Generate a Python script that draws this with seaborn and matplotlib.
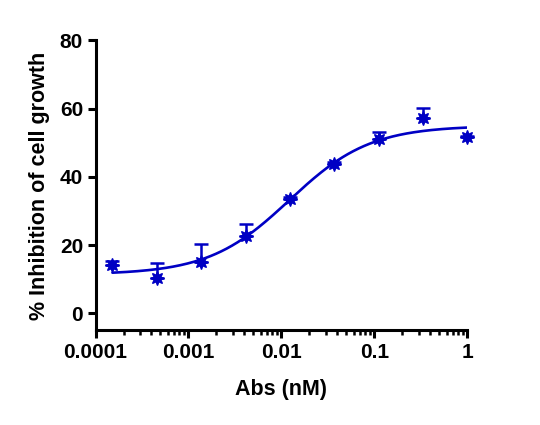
import matplotlib
matplotlib.use("Agg")
import matplotlib.pyplot as plt
import matplotlib.ticker as mticker
import numpy as np
import pandas as pd
import seaborn as sns

# data
conc = [0.000152, 0.000457, 0.00137, 0.00412, 0.0123, 0.037, 0.111, 0.333, 1.0]
inhibition = [14.1, 10.5, 15.2, 22.7, 33.6, 43.9, 51.0, 57.3, 51.7]
err_up = [1.4, 4.3, 5.0, 3.6, 0.6, 0.5, 2.1, 3.0, 0.4]

# 4PL fit parameters (bottom, top, EC50, hill)
fit_bottom, fit_top, fit_ec50, fit_hill = 11.4, 55.0, 0.0122, 1.0

blue = "#0000C4"

sns.set_style("ticks", {"axes.edgecolor": "black", "text.color": "black",
                        "xtick.color": "black", "ytick.color": "black",
                        "axes.labelcolor": "black"})
plt.rcParams["font.family"] = ["Liberation Sans", "DejaVu Sans"]
plt.rcParams["font.weight"] = "bold"

df = pd.DataFrame({"conc": conc, "inhibition": inhibition})
xfit = np.logspace(np.log10(conc[0]), np.log10(conc[-1]), 200)
yfit = fit_bottom + (fit_top - fit_bottom) / (1 + (fit_ec50 / xfit) ** fit_hill)
fit_df = pd.DataFrame({"conc": xfit, "fit": yfit})

fig = plt.figure(figsize=(5.4, 4.25), dpi=100)
ax = fig.add_axes([0.1769, 0.2224, 0.6885, 0.6824])

sns.lineplot(data=fit_df, x="conc", y="fit", color=blue, linewidth=1.9, ax=ax)
ax.errorbar(conc, inhibition, yerr=[np.zeros(len(err_up)), err_up], fmt="none",
            ecolor=blue, elinewidth=1.8, capsize=5, capthick=1.8, clip_on=False)
sns.scatterplot(data=df, x="conc", y="inhibition", marker=(8, 1, 0), s=90,
                color=blue, edgecolor=blue, linewidth=1.2, ax=ax, zorder=5,
                clip_on=False)

ax.set_xscale("log")
ax.set_xlim(1e-4, 1)
ax.set_ylim(-5, 80)
ax.set_yticks([0, 20, 40, 60, 80])
ax.set_xticks([1e-4, 1e-3, 1e-2, 1e-1, 1])
ax.set_xticklabels(["0.0001", "0.001", "0.01", "0.1", "1"])
ax.xaxis.set_minor_locator(mticker.LogLocator(base=10, subs=np.arange(2, 10)))
ax.xaxis.set_minor_formatter(mticker.NullFormatter())

for s in ["top", "right"]:
    ax.spines[s].set_visible(False)
for s in ["left", "bottom"]:
    ax.spines[s].set_linewidth(2.2)
    ax.spines[s].set_color("black")
ax.tick_params(axis="both", which="major", length=6, width=2.2, labelsize=15,
               pad=3, colors="black")
ax.tick_params(axis="x", which="minor", length=3.5, width=1.8, colors="black")
for lab in ax.get_xticklabels() + ax.get_yticklabels():
    lab.set_fontweight("bold")

ax.set_xlabel("Abs (nM)", fontsize=15.5, fontweight="bold", labelpad=12, color="black")
ax.set_ylabel("% Inhibition of cell growth", fontsize=15.5, fontweight="bold",
              labelpad=7, color="black")

fig.savefig("out.png", dpi=100)
